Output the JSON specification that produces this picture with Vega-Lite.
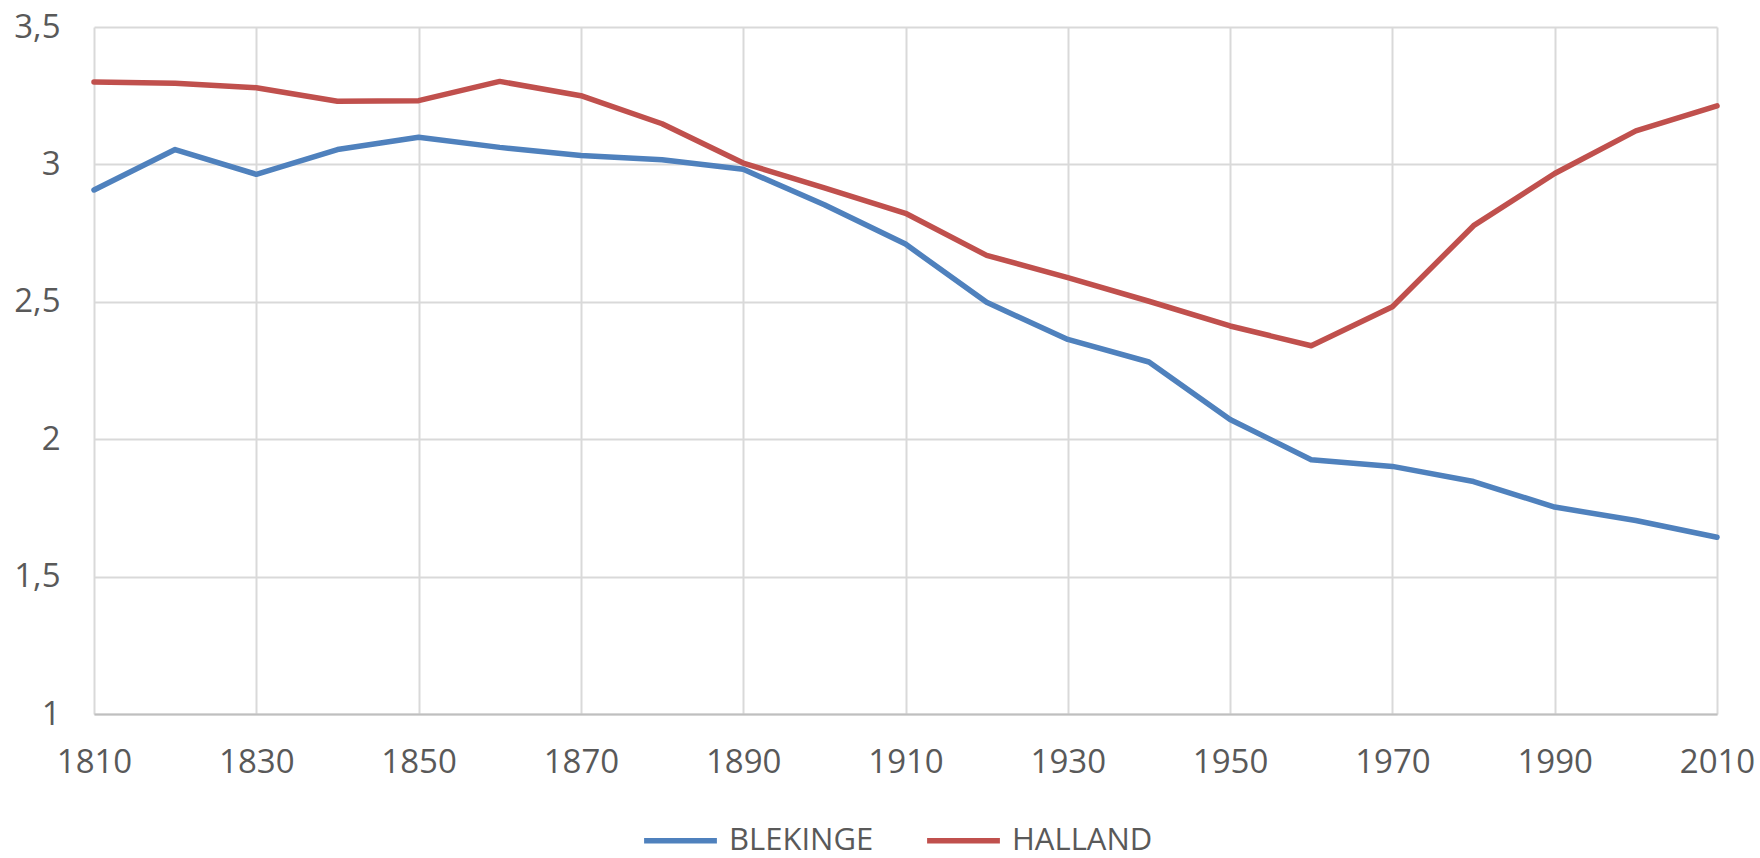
{
  "$schema": "https://vega.github.io/schema/vega-lite/v6.json",
  "width": 1623,
  "height": 687,
  "padding": {"left": 94, "top": 27, "right": 43, "bottom": 144},
  "autosize": {"type": "none"},
  "background": "white",
  "config": {
    "view": {"stroke": null},
    "font": "Open Sans"
  },
  "data": {
    "values": [
      {"year": 1810, "county": "BLEKINGE", "value": 2.907},
      {"year": 1820, "county": "BLEKINGE", "value": 3.054},
      {"year": 1830, "county": "BLEKINGE", "value": 2.964},
      {"year": 1840, "county": "BLEKINGE", "value": 3.054},
      {"year": 1850, "county": "BLEKINGE", "value": 3.099},
      {"year": 1860, "county": "BLEKINGE", "value": 3.062},
      {"year": 1870, "county": "BLEKINGE", "value": 3.032},
      {"year": 1880, "county": "BLEKINGE", "value": 3.017},
      {"year": 1890, "county": "BLEKINGE", "value": 2.982},
      {"year": 1900, "county": "BLEKINGE", "value": 2.853},
      {"year": 1910, "county": "BLEKINGE", "value": 2.710},
      {"year": 1920, "county": "BLEKINGE", "value": 2.498},
      {"year": 1930, "county": "BLEKINGE", "value": 2.363},
      {"year": 1940, "county": "BLEKINGE", "value": 2.281},
      {"year": 1950, "county": "BLEKINGE", "value": 2.072},
      {"year": 1960, "county": "BLEKINGE", "value": 1.925},
      {"year": 1970, "county": "BLEKINGE", "value": 1.901},
      {"year": 1980, "county": "BLEKINGE", "value": 1.846},
      {"year": 1990, "county": "BLEKINGE", "value": 1.753},
      {"year": 2000, "county": "BLEKINGE", "value": 1.704},
      {"year": 2010, "county": "BLEKINGE", "value": 1.643},
      {"year": 1810, "county": "HALLAND", "value": 3.300},
      {"year": 1820, "county": "HALLAND", "value": 3.295},
      {"year": 1830, "county": "HALLAND", "value": 3.279},
      {"year": 1840, "county": "HALLAND", "value": 3.230},
      {"year": 1850, "county": "HALLAND", "value": 3.232},
      {"year": 1860, "county": "HALLAND", "value": 3.302},
      {"year": 1870, "county": "HALLAND", "value": 3.250},
      {"year": 1880, "county": "HALLAND", "value": 3.148},
      {"year": 1890, "county": "HALLAND", "value": 3.005},
      {"year": 1900, "county": "HALLAND", "value": 2.915},
      {"year": 1910, "county": "HALLAND", "value": 2.822},
      {"year": 1920, "county": "HALLAND", "value": 2.669},
      {"year": 1930, "county": "HALLAND", "value": 2.588},
      {"year": 1940, "county": "HALLAND", "value": 2.502},
      {"year": 1950, "county": "HALLAND", "value": 2.412},
      {"year": 1960, "county": "HALLAND", "value": 2.340},
      {"year": 1970, "county": "HALLAND", "value": 2.482},
      {"year": 1980, "county": "HALLAND", "value": 2.777},
      {"year": 1990, "county": "HALLAND", "value": 2.967},
      {"year": 2000, "county": "HALLAND", "value": 3.122},
      {"year": 2010, "county": "HALLAND", "value": 3.213}
    ]
  },
  "mark": {"type": "line", "strokeWidth": 5.5, "strokeCap": "round", "strokeJoin": "round"},
  "encoding": {
    "x": {
      "field": "year",
      "type": "quantitative",
      "scale": {"domain": [1810, 2010], "nice": false, "zero": false},
      "axis": {
        "title": null,
        "values": [1810, 1830, 1850, 1870, 1890, 1910, 1930, 1950, 1970, 1990, 2010],
        "format": "d",
        "grid": true,
        "gridColor": "#d9d9d9",
        "gridWidth": 2,
        "domainColor": "#bfbfbf",
        "domainWidth": 2,
        "ticks": false,
        "labelFont": "Open Sans",
        "labelFontSize": 33,
        "labelColor": "#595959",
        "labelPadding": 32,
        "labelFlush": false
      }
    },
    "y": {
      "field": "value",
      "type": "quantitative",
      "scale": {"domain": [1, 3.5], "nice": false, "zero": false},
      "axis": {
        "title": null,
        "values": [1, 1.5, 2, 2.5, 3, 3.5],
        "labelExpr": "replace(format(datum.value, '~g'), '.', ',')",
        "grid": true,
        "gridColor": "#d9d9d9",
        "gridWidth": 2,
        "domain": false,
        "ticks": false,
        "labelFont": "Open Sans",
        "labelFontSize": 33,
        "labelColor": "#595959",
        "labelPadding": 34,
        "labelFlush": false
      }
    },
    "color": {
      "field": "county",
      "type": "nominal",
      "scale": {"domain": ["BLEKINGE", "HALLAND"], "range": ["#4f81bd", "#c0504d"]},
      "legend": {
        "title": null,
        "orient": "none",
        "direction": "horizontal",
        "legendX": 547,
        "legendY": 774,
        "padding": 0,
        "symbolType": "stroke",
        "symbolSize": 5300,
        "symbolStrokeWidth": 5.5,
        "labelFont": "Open Sans",
        "labelFontSize": 31,
        "labelColor": "#595959",
        "columnPadding": 42,
        "labelOffset": 9
      }
    }
  }
}
